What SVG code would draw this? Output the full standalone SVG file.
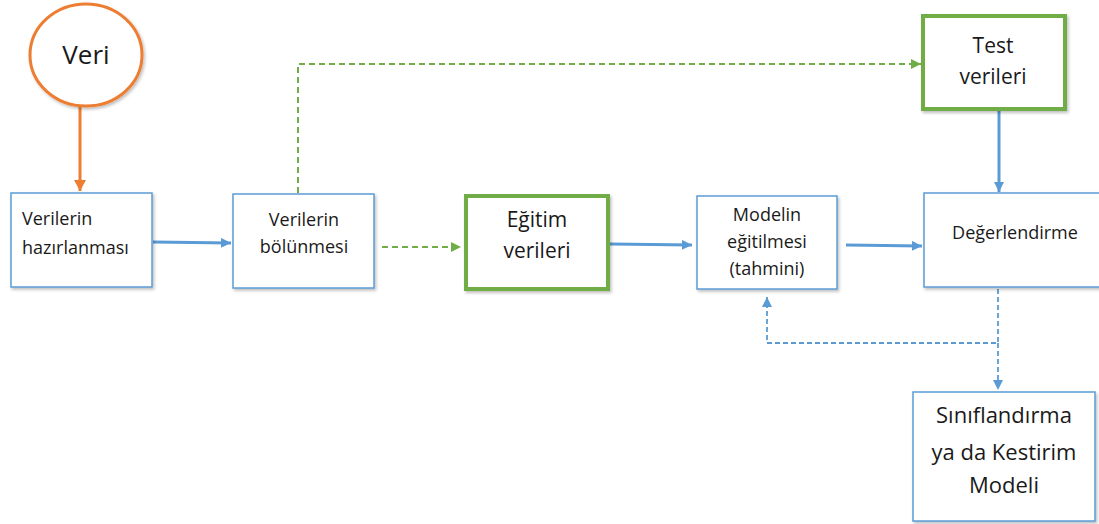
<svg xmlns="http://www.w3.org/2000/svg" width="1099" height="524" viewBox="0 0 1099 524">
<style>
.t{font-family:"Open Sans","Liberation Sans",sans-serif;fill:#1a1a1a}
.c{text-anchor:middle}
.bb{fill:#fff;stroke:#5B9BD5;stroke-width:1.5}
.gb{fill:#fff;stroke:#70AD47;stroke-width:4}
.bl{fill:none;stroke:#5B9BD5;stroke-width:3}
.bd{fill:none;stroke:#5B9BD5;stroke-width:1.8;stroke-dasharray:5 3}
.gd{fill:none;stroke:#70AD47;stroke-width:2;stroke-dasharray:6 4}
</style>
<defs>
<filter id="sh" x="-10%" y="-10%" width="130%" height="130%"><feDropShadow dx="1.5" dy="2" stdDeviation="1.5" flood-color="#000" flood-opacity="0.25"/></filter>
<marker id="ab" markerUnits="userSpaceOnUse" markerWidth="12" markerHeight="12" refX="10" refY="5" orient="auto"><path d="M0,0 L10,5 L0,10 Z" fill="#5B9BD5"/></marker>
<marker id="ag" markerUnits="userSpaceOnUse" markerWidth="12" markerHeight="12" refX="10" refY="5" orient="auto"><path d="M0,0 L10,5 L0,10 Z" fill="#70AD47"/></marker>
<marker id="ao" markerUnits="userSpaceOnUse" markerWidth="14" markerHeight="14" refX="11" refY="6" orient="auto"><path d="M0,0 L11,6 L0,12 Z" fill="#ED7D31"/></marker>
</defs>
<g id="connectors">
<line x1="80" y1="106" x2="80" y2="191" stroke="#ED7D31" stroke-width="3" marker-end="url(#ao)"/>
<line class="bl" x1="153" y1="242" x2="231" y2="243" marker-end="url(#ab)"/>
<line class="gd" x1="382" y1="247" x2="461" y2="247" marker-end="url(#ag)"/>
<polyline class="gd" points="298,193 298,64 921,64" marker-end="url(#ag)"/>
<line class="bl" x1="610" y1="244" x2="692" y2="245" marker-end="url(#ab)"/>
<line class="bl" x1="846" y1="245" x2="922" y2="246" marker-end="url(#ab)"/>
<line class="bl" stroke-width="2.5" x1="999" y1="111" x2="999" y2="192" marker-end="url(#ab)"/>
<polyline class="bd" points="998,289 998,343 767,343 767,297" marker-end="url(#ab)"/>
<line class="bd" x1="998" y1="343" x2="998" y2="390" marker-end="url(#ab)"/>
</g>
<g id="veri">
<ellipse cx="86" cy="55" rx="56" ry="51" fill="#fff" stroke="#ED7D31" stroke-width="3" filter="url(#sh)"/>
<text class="t c" x="86" y="64" font-size="26">Veri</text>
</g>
<g id="hazirlanmasi">
<rect class="bb" x="11" y="193" width="141" height="94" filter="url(#sh)"/>
<text class="t" font-size="18" x="22" y="225">Verilerin</text>
<text class="t" font-size="18" x="22" y="254">hazırlanması</text>
</g>
<g id="bolunmesi">
<rect class="bb" x="233" y="194" width="141" height="94" filter="url(#sh)"/>
<text class="t c" font-size="18" x="304" y="226">Verilerin</text>
<text class="t c" font-size="18" x="304" y="253">bölünmesi</text>
</g>
<g id="egitim">
<rect class="gb" x="466" y="196" width="142" height="93" filter="url(#sh)"/>
<text class="t c" font-size="21" x="537" y="227">Eğitim</text>
<text class="t c" font-size="21" x="537" y="258">verileri</text>
</g>
<g id="modelin">
<rect class="bb" x="697" y="196" width="140" height="93" filter="url(#sh)"/>
<text class="t c" font-size="18" x="767" y="221">Modelin</text>
<text class="t c" font-size="18" x="767" y="248">eğitilmesi</text>
<text class="t c" font-size="18" x="767" y="275">(tahmini)</text>
</g>
<g id="test">
<rect class="gb" x="923" y="16" width="142" height="93" filter="url(#sh)"/>
<text class="t c" font-size="21" x="993" y="53">Test</text>
<text class="t c" font-size="21" x="993" y="84">verileri</text>
</g>
<g id="degerlendirme">
<rect class="bb" x="924" y="193" width="180" height="94" filter="url(#sh)"/>
<text class="t c" font-size="18" x="1015" y="239">Değerlendirme</text>
</g>
<g id="siniflandirma">
<rect class="bb" x="913" y="392" width="182" height="129" filter="url(#sh)"/>
<text class="t c" font-size="22" x="1004" y="423">Sınıflandırma</text>
<text class="t c" font-size="22" x="1004" y="460">ya da Kestirim</text>
<text class="t c" font-size="22" x="1004" y="493">Modeli</text>
</g>
</svg>
